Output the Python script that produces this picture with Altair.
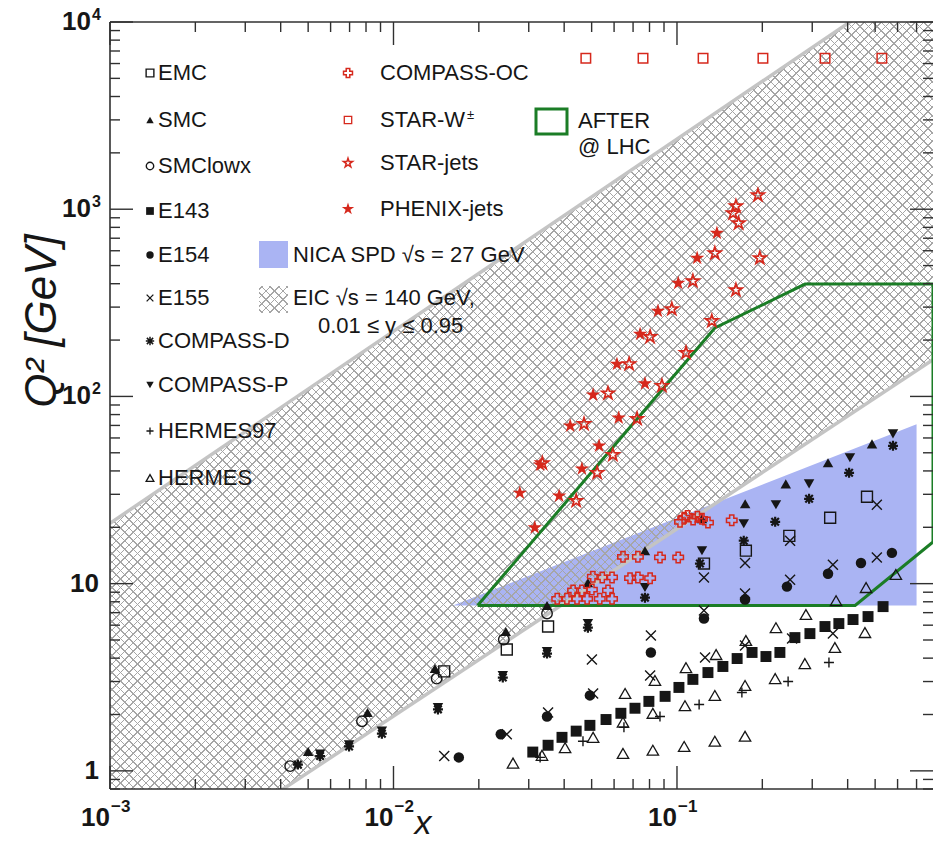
import math
import altair as alt
import pandas as pd

# ---------------------------------------------------------------- data
emc_x = [0.0151, 0.0251, 0.0351, 0.1245, 0.175, 0.249, 0.347, 0.468]
emc_q2 = [3.4, 4.45, 5.9, 12.8, 15.0, 18.0, 22.5, 29.1]

smc_x = [0.0050, 0.0081, 0.0140, 0.0249, 0.0348, 0.0485, 0.0771, 0.1225, 0.174, 0.242, 0.341, 0.4875]
smc_q2 = [1.27, 2.05, 3.52, 5.55, 7.64, 10.1, 15.0, 22.2, 26.7, 34.1, 44.2, 55.8]

smclowx_x = [0.00432, 0.00774, 0.0142, 0.0245, 0.0348]
smclowx_q2 = [1.06, 1.84, 3.11, 5.03, 6.92]

e143_x = [0.031, 0.0351, 0.0393, 0.0441, 0.0493, 0.0562, 0.0634, 0.0711, 0.0796, 0.0908,
          0.1016, 0.1138, 0.1286, 0.1452, 0.163, 0.184, 0.206, 0.2307, 0.2606, 0.2944,
          0.3327, 0.3724, 0.4178, 0.472, 0.5333]
e143_q2 = [1.26, 1.37, 1.51, 1.63, 1.75, 1.88, 2.03, 2.16, 2.35, 2.50,
           2.79, 3.08, 3.35, 3.61, 3.98, 4.29, 4.08, 4.29, 5.15, 5.41,
           5.9, 6.12, 6.43, 6.67, 7.54]

e154_x = [0.017, 0.0239, 0.0348, 0.0493, 0.0809, 0.1245, 0.1738, 0.2443, 0.341, 0.4457, 0.573]
e154_q2 = [1.18, 1.57, 1.95, 2.53, 4.29, 6.51, 8.22, 9.64, 11.3, 12.9, 14.6]

e155_x = [0.0151, 0.0251, 0.0351, 0.0506, 0.0501, 0.0809, 0.0804, 0.1245, 0.1245, 0.1256,
          0.1738, 0.1738, 0.1738, 0.2506, 0.2506, 0.2547, 0.3548, 0.3548, 0.507, 0.507]
e155_q2 = [1.20, 1.57, 2.05, 2.59, 3.93, 5.28, 3.23, 10.8, 7.18, 4.03,
           12.9, 8.85, 4.67, 16.96, 10.5, 5.09, 12.6, 5.41, 26.4, 13.8]

compd_x = [0.0046, 0.00551, 0.00697, 0.0091, 0.01435, 0.0243, 0.0348, 0.0485, 0.0771, 0.1205,
           0.172, 0.222, 0.2924, 0.4046, 0.578]
compd_q2 = [1.08, 1.20, 1.35, 1.58, 2.13, 3.15, 4.23, 5.82, 8.42, 12.8,
            16.96, 21.4, 28.4, 39.1, 54.5]

compp_x = [0.00551, 0.00697, 0.0091, 0.01435, 0.0243, 0.0348, 0.0485, 0.0771, 0.1225, 0.172,
           0.2234, 0.2924, 0.4074, 0.578]
compp_q2 = [1.23, 1.38, 1.63, 2.18, 3.23, 4.34, 6.12, 9.53, 15.0, 20.9,
            26.4, 34.1, 47.0, 63.1]

hermes97_x = [0.0329, 0.0466, 0.065, 0.0871, 0.1197, 0.1694, 0.2466, 0.3436]
hermes97_q2 = [1.18, 1.44, 1.71, 1.95, 2.26, 2.62, 3.0, 3.79]

hermes_x = [0.0264, 0.0334, 0.0403, 0.0506, 0.0645, 0.0822, 0.106, 0.136, 0.1738,
            0.0645, 0.0822, 0.1067, 0.136, 0.1738, 0.222, 0.2825, 0.3606, 0.4603,
            0.0656, 0.0836, 0.1076, 0.1374, 0.175, 0.2234, 0.285, 0.364, 0.4645, 0.5916]
hermes_q2 = [1.10, 1.21, 1.33, 1.51, 1.24, 1.29, 1.35, 1.44, 1.53,
             1.82, 2.03, 2.23, 2.53, 2.86, 3.11, 3.74, 4.56, 5.48,
             2.59, 3.04, 3.56, 4.18, 4.97, 5.82, 6.84, 8.11, 9.53, 11.2]

compoc_x = [0.1025, 0.106, 0.109, 0.114, 0.118, 0.1225, 0.1286, 0.156,
            0.0645, 0.0728, 0.0871, 0.101,
            0.0505, 0.0545, 0.059, 0.0683, 0.0728, 0.0804,
            0.043, 0.0462, 0.0501, 0.0571,
            0.0378, 0.0409, 0.0444, 0.0482, 0.0534, 0.059]
compoc_q2 = [21.4, 22.5, 23.0, 22.0, 22.8, 22.2, 21.2, 21.8,
             13.9, 13.9, 13.8, 13.8,
             10.9, 10.8, 10.8, 10.7, 10.8, 10.7,
             9.2, 9.2, 9.3, 9.2,
             8.3, 8.3, 8.3, 8.3, 8.3, 8.3]

starw_x = [0.0477, 0.0759, 0.1236, 0.201, 0.333, 0.528]
starw_q2 = [6400, 6400, 6400, 6400, 6400, 6400]

starjets_x = [0.0335, 0.0441, 0.047, 0.0523, 0.0571, 0.0594, 0.0678, 0.0723, 0.0804, 0.0885,
              0.0959, 0.1076, 0.1138, 0.1327, 0.136, 0.1577, 0.1614, 0.165, 0.1614, 0.193, 0.196]
starjets_q2 = [44, 27.7, 71.3, 39.1, 104, 48.8, 149, 75.9, 208, 114,
               293, 171, 413, 253, 582, 952, 1038, 842, 370, 1188, 548]

phenix_x = [0.0279, 0.0315, 0.0329, 0.0384, 0.042, 0.0462, 0.0506, 0.0531, 0.0614, 0.0623,
            0.0741, 0.0771, 0.0857, 0.101, 0.1178, 0.1383]
phenix_q2 = [30.5, 19.9, 43.1, 29.4, 69.6, 41.1, 102, 54.5, 149, 76.8,
             215, 117, 286, 403, 548, 745]

# regions
eic_x = [0.001, 0.8]
eic_upper = [21, 20000]
eic_lower = [0.196, 157]

nica_x = [0.0162, 0.70]
nica_upper = [7.64, 71]
nica_lower = [7.64, 7.64]

after_x = [0.0198, 0.136, 0.283, 0.8, 0.8, 0.425, 0.0198]
after_q2 = [7.64, 232, 398, 398, 16.7, 7.64, 7.64]

# axis ticks / labels
y_major = [1, 10, 100, 1000, 10000]
y_minor = [0.8, 0.9] + [m * 10 ** k for k in range(0, 4) for m in range(2, 10)]
x_major = [0.001, 0.01, 0.1]
x_minor = [m * 10.0 ** k for k in (-3, -2, -1) for m in range(2, 10) if m * 10.0 ** k < 0.79]
y_lab_exp_vals = [100, 1000, 10000]
y_lab_exp = ["2", "3", "4"]
y_lab_plain_vals = [1, 10]
y_lab_plain = ["1", "10"]
x_lab_vals = [0.001, 0.01, 0.1]
x_lab_exp = ["\u22123", "\u22122", "\u22121"]

left_names = ["EMC", "SMC", "SMClowx", "E143", "E154", "E155", "COMPASS-D", "COMPASS-P",
              "HERMES97", "HERMES"]
right_names = ["COMPASS-OC", "STAR-W", "STAR-jets", "PHENIX-jets"]

# ---------------------------------------------------------------- style / layout
W, H = 823, 767
X_DOMAIN = [0.001, 0.8]
Y_DOMAIN = [0.8, 10000]
FONT = "Liberation Sans"
RED = "#d6281c"
GREEN = "#1b7d26"
NICA_BLUE = "#aab4f3"
HATCH = "#a6a6a6"
EDGE = "#c4c4c4"
INK = "#161616"

xs = alt.Scale(type="log", domain=X_DOMAIN, nice=False)
ys = alt.Scale(type="log", domain=Y_DOMAIN, nice=False)


def XY(xf="x", yf="q2"):
    return dict(x=alt.X(f"{xf}:Q", scale=xs, axis=None),
                y=alt.Y(f"{yf}:Q", scale=ys, axis=None))


def one():
    return pd.DataFrame({"d": [0]})


def hatch(wpx, hpx, period, lw, flip):
    L = wpx + hpx
    s = wpx ** 2 + hpx ** 2
    a = wpx * L / s
    b = hpx * L / s
    if flip:
        x1, y1, x2, y2 = 0.0, 1.0, a, 1.0 - b
    else:
        x1, y1, x2, y2 = 0.0, 0.0, a, b
    dt = period / L
    wt = lw / L
    clear = "rgba(255,255,255,0)"
    st = [(0.0, clear)]
    t = dt * 0.3
    while t + wt < 1:
        st += [(t, clear), (t, HATCH), (t + wt, HATCH), (t + wt, clear)]
        t += dt
    st.append((1.0, clear))
    stops = [alt.GradientStop(color=c, offset=round(o, 6)) for o, c in st]
    return alt.LinearGradient(gradient="linear", stops=stops,
                              x1=round(x1, 5), y1=round(y1, 5), x2=round(x2, 5), y2=round(y2, 5))


def ypix(v):
    return (math.log10(Y_DOMAIN[1]) - math.log10(v)) * H / (math.log10(Y_DOMAIN[1]) - math.log10(Y_DOMAIN[0]))


layers = []

# NICA region
nica_df = pd.DataFrame({"x": nica_x, "q2": nica_upper, "lo": nica_lower})
layers.append(alt.Chart(nica_df).mark_area(color=NICA_BLUE, opacity=1, clip=True).encode(
    **XY(), y2=alt.Y2("lo:Q")))

# EIC hatched band
eic_df = pd.DataFrame({"x": eic_x, "q2": eic_upper, "lo": eic_lower})
hb_h = ypix(min(eic_lower)) - ypix(max(eic_upper))
for flip in (False, True):
    layers.append(alt.Chart(eic_df).mark_area(fill=hatch(W, hb_h, 8.5, 1.5, flip), clip=True).encode(
        **XY(), y2=alt.Y2("lo:Q")))
edge_df = pd.DataFrame({"x": eic_x + eic_x, "q2": eic_upper + eic_lower,
                        "edge": ["u", "u", "l", "l"]})
layers.append(alt.Chart(edge_df).mark_line(color=EDGE, strokeWidth=3.5, clip=True).encode(
    **XY(), detail="edge:N"))

# AFTER@LHC outline
after_df = pd.DataFrame({"x": after_x, "q2": after_q2, "i": list(range(len(after_x)))})
layers.append(alt.Chart(after_df).mark_line(color=GREEN, strokeWidth=3, clip=True).encode(
    **XY(), order="i:Q"))

X_PATH = "M-1,-1L1,1M-1,1L1,-1"
PLUS_PATH = "M-1,0L1,0M0,-1L0,1"
AST_PATH = "M-1,0L1,0M0,-1L0,1M-0.75,-0.75L0.75,0.75M-0.75,0.75L0.75,-0.75"
STAR_PATH = ("M0,-1L0.2245,-0.309L0.951,-0.309L0.3633,0.118L0.5878,0.809L0,0.382"
             "L-0.5878,0.809L-0.3633,0.118L-0.951,-0.309L-0.2245,-0.309Z")

series = [
    ("EMC", emc_x, emc_q2, dict(shape="square", filled=False, color=INK, strokeWidth=1.4), 120, 60, 1.4),
    ("SMC", smc_x, smc_q2, dict(shape="triangle-up", filled=True, color=INK), 110, 55, None),
    ("SMClowx", smclowx_x, smclowx_q2, dict(shape="circle", filled=False, color=INK, strokeWidth=1.4), 110, 55, 1.4),
    ("E143", e143_x, e143_q2, dict(shape="square", filled=True, color=INK), 120, 60, None),
    ("E154", e154_x, e154_q2, dict(shape="circle", filled=True, color=INK), 110, 55, None),
    ("E155", e155_x, e155_q2, dict(shape=X_PATH, filled=False, color=INK, strokeWidth=1.4), 100, 45, 1.3),
    ("COMPASS-D", compd_x, compd_q2, dict(shape=AST_PATH, filled=False, color=INK, strokeWidth=2.2), 100, 70, 1.5),
    ("COMPASS-P", compp_x, compp_q2, dict(shape="triangle-down", filled=True, color=INK), 110, 55, None),
    ("HERMES97", hermes97_x, hermes97_q2, dict(shape=PLUS_PATH, filled=False, color=INK, strokeWidth=1.4), 100, 50, 1.3),
    ("HERMES", hermes_x, hermes_q2, dict(shape="triangle-up", filled=False, color=INK, strokeWidth=1.3), 130, 60, 1.3),
    ("COMPASS-OC", compoc_x, compoc_q2, dict(shape="cross", filled=False, color=RED, strokeWidth=1.5), 110, 80, 1.5),
    ("STAR-W", starw_x, starw_q2, dict(shape="square", filled=False, color=RED, strokeWidth=1.5), 90, 55, 1.3),
    ("STAR-jets", starjets_x, starjets_q2, dict(shape=STAR_PATH, filled=False, color=RED, strokeWidth=1.7), 170, 90, 1.5),
    ("PHENIX-jets", phenix_x, phenix_q2, dict(shape=STAR_PATH, filled=True, color=RED), 230, 170, None),
]

left_rows = [51, 98, 144, 189, 233, 276, 319, 363, 409, 456]
right_rows = [51, 98, 141, 187]

for name, sx, sq, style, size, lsize, lsw in series:
    df = pd.DataFrame({"x": sx, "q2": sq})
    layers.append(alt.Chart(df).mark_point(opacity=1, size=size, **style).encode(**XY()))
    if name in left_names:
        lx, ly = 40, left_rows[left_names.index(name)]
    else:
        lx, ly = 238, right_rows[right_names.index(name)]
    lstyle = dict(style)
    if lsw is not None:
        lstyle["strokeWidth"] = lsw
    layers.append(alt.Chart(one()).mark_point(opacity=1, size=lsize, **lstyle).encode(
        x=alt.value(lx), y=alt.value(ly)))


def label(text, x, y, size=22, align="left", weight="normal", style="normal", angle=0, color=INK):
    kw = dict(align=align, baseline="middle", fontSize=size, font=FONT, color=color,
              fontWeight=weight, fontStyle=style)
    if angle:
        kw["angle"] = angle
    return alt.Chart(pd.DataFrame({"t": [text]})).mark_text(**kw).encode(
        x=alt.value(x), y=alt.value(y), text="t:N")


for i, n in enumerate(left_names):
    layers.append(label(n, 48, left_rows[i]))
for i, n in enumerate(right_names):
    layers.append(label(n, 270, right_rows[i]))
layers.append(label("\u00b1", 357, 93, size=13))

# NICA / EIC / AFTER legend boxes
layers.append(alt.Chart(one()).mark_rect(color=NICA_BLUE).encode(
    x=alt.value(149), x2=alt.value(178), y=alt.value(219), y2=alt.value(246)))
for flip in (False, True):
    layers.append(alt.Chart(one()).mark_rect(fill=hatch(29, 27, 8.5, 1.5, flip)).encode(
        x=alt.value(149), x2=alt.value(178), y=alt.value(264), y2=alt.value(291)))
layers.append(alt.Chart(one()).mark_rect(fillOpacity=0, stroke=GREEN, strokeWidth=3).encode(
    x=alt.value(426), x2=alt.value(457), y=alt.value(87), y2=alt.value(112)))
layers.append(label("NICA SPD \u221as = 27 GeV", 183, 233))
layers.append(label("EIC \u221as = 140 GeV,", 183, 276))
layers.append(label("0.01 \u2264 y \u2264 0.95", 208, 304))
layers.append(label("AFTER", 468, 99))
layers.append(label("@ LHC", 468, 125))

# frame and ticks
TICK = "#303030"
layers.append(alt.Chart(one()).mark_rule(color=TICK, strokeWidth=1.6).encode(
    x=alt.value(0), y=alt.value(0), y2=alt.value(H)))
layers.append(alt.Chart(one()).mark_rule(color=TICK, strokeWidth=1.6).encode(
    x=alt.value(0), x2=alt.value(W), y=alt.value(H)))
layers.append(alt.Chart(one()).mark_rule(color=TICK, strokeWidth=1.6).encode(
    x=alt.value(0), x2=alt.value(W), y=alt.value(0)))

for vals, ln in ((y_major, 23), (y_minor, 10)):
    d = pd.DataFrame({"v": vals})
    yy = alt.Y("v:Q", scale=ys, axis=None)
    layers.append(alt.Chart(d).mark_rule(color=TICK, strokeWidth=1.4).encode(
        y=yy, x=alt.value(0), x2=alt.value(ln)))
    layers.append(alt.Chart(d).mark_rule(color=TICK, strokeWidth=1.4).encode(
        y=yy, x=alt.value(W - ln), x2=alt.value(W)))
for vals, ln in ((x_major, 23), (x_minor, 10)):
    d = pd.DataFrame({"v": vals})
    xx = alt.X("v:Q", scale=xs, axis=None)
    layers.append(alt.Chart(d).mark_rule(color=TICK, strokeWidth=1.4).encode(
        x=xx, y=alt.value(H - ln), y2=alt.value(H)))
    layers.append(alt.Chart(d).mark_rule(color=TICK, strokeWidth=1.4).encode(
        x=xx, y=alt.value(0), y2=alt.value(ln)))

# tick labels
yl = pd.DataFrame({"v": y_lab_exp_vals, "e": y_lab_exp, "b": ["10"] * len(y_lab_exp)})
layers.append(alt.Chart(yl).mark_text(align="right", baseline="middle", fontSize=26, font=FONT,
                                      fontWeight="bold", color=INK).encode(
    y=alt.Y("v:Q", scale=ys, axis=None), x=alt.value(-19), text="b:N"))
layers.append(alt.Chart(yl).mark_text(align="left", baseline="middle", fontSize=16, font=FONT,
                                      fontWeight="bold", color=INK, dy=-7).encode(
    y=alt.Y("v:Q", scale=ys, axis=None), x=alt.value(-18), text="e:N"))
yp = pd.DataFrame({"v": y_lab_plain_vals, "b": y_lab_plain})
layers.append(alt.Chart(yp).mark_text(align="right", baseline="middle", fontSize=26, font=FONT,
                                      fontWeight="bold", color=INK).encode(
    y=alt.Y("v:Q", scale=ys, axis=None), x=alt.value(-11), text="b:N"))
xl = pd.DataFrame({"v": x_lab_vals, "e": x_lab_exp, "b": ["10"] * len(x_lab_vals)})
layers.append(alt.Chart(xl).mark_text(align="right", baseline="middle", fontSize=26, font=FONT,
                                      fontWeight="bold", color=INK).encode(
    x=alt.X("v:Q", scale=xs, axis=None), y=alt.value(H + 29), text="b:N"))
layers.append(alt.Chart(xl).mark_text(align="left", baseline="middle", fontSize=17, font=FONT,
                                      fontWeight="bold", color=INK, dx=1).encode(
    x=alt.X("v:Q", scale=xs, axis=None), y=alt.value(H + 18), text="e:N"))

# axis titles
layers.append(label("Q\u00b2 [GeV]", -67, 299, size=44, align="center", style="italic", angle=270))
layers.append(label("x", 313, 802, size=34, align="center", style="italic"))

chart = alt.layer(*layers).properties(
    width=W, height=H,
    padding={"left": 110, "top": 22, "right": 0, "bottom": 56},
    autosize=alt.AutoSizeParams(type="none"),
    background="white",
).configure_view(strokeWidth=0)

chart.save("out.html", embed_options={"renderer": "svg", "actions": False})
